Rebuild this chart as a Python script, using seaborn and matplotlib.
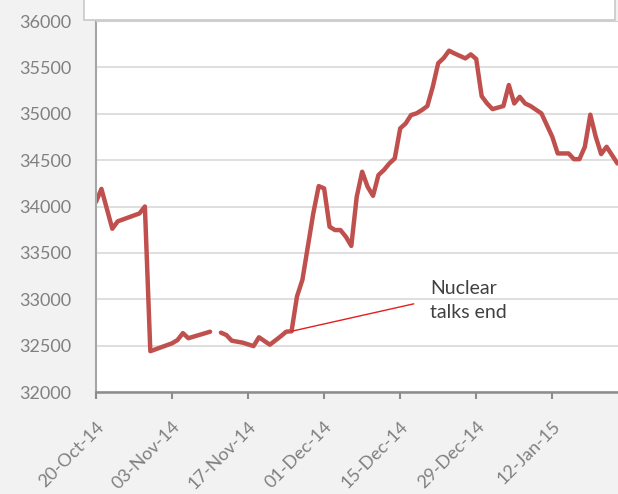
import numpy as np
import pandas as pd
import matplotlib
matplotlib.use("Agg")
import matplotlib.pyplot as plt
import matplotlib.dates as mdates
from matplotlib.patches import Rectangle
import seaborn as sns

# index values (day offset from 20-Oct-14, value)
start = pd.Timestamp("2014-10-20")
day_offsets = [0, 1, 3, 4, 8, 9, 10, 14, 15, 16, 17, 21, 22, 23, 24, 25, 27, 29,
               30, 32, 34, 35, 36, 37, 38, 40, 41, 42, 43, 44, 45, 46, 47, 48, 49,
               50, 51, 52, 53, 54, 55, 56, 57, 58, 59, 60, 61, 62, 63, 64, 65, 66,
               68, 69, 70, 71, 72, 73, 75, 76, 77, 78, 79, 80, 82, 84, 85, 87, 88,
               89, 90, 91, 92, 93, 94, 96]
values = [34050, 34190, 33760, 33840, 33925, 34000, 32440, 32525, 32560, 32635,
          32580, 32650, np.nan, 32640, 32614, 32553, 32532, 32495, 32590, 32510,
          32600, 32650, 32655, 33030, 33210, 33926, 34220, 34195, 33782, 33746,
          33746, 33674, 33575, 34105, 34375, 34213, 34115, 34339, 34393, 34464,
          34518, 34842, 34895, 34986, 35004, 35040, 35083, 35291, 35545, 35600,
          35680, 35650, 35597, 35640, 35590, 35190, 35111, 35050, 35083, 35310,
          35111, 35183, 35111, 35083, 35004, 34752, 34572, 34572, 34510, 34510,
          34644, 34990, 34752, 34565, 34644, 34464]
note_text = "Nuclear\ntalks end"
note_day = 36

dates = [start + pd.Timedelta(days=d) for d in day_offsets]
df = pd.DataFrame({"date": dates, "value": values})
# split the line where a value is missing
df["segment"] = df["value"].isna().cumsum()
df = df.dropna()

fig = plt.figure(figsize=(6.18, 4.94), dpi=100, facecolor="#f2f2f2")
ax = fig.add_axes([96 / 618, 1 - 392 / 494, 1 - 96 / 618, (392 - 21) / 494])
ax.set_facecolor("white")

# white box at the top (cropped legend area)
fig.patches.append(Rectangle((84 / 618, 1 - 20 / 494), (615 - 84) / 618, 0.05,
                             transform=fig.transFigure, facecolor="white",
                             edgecolor="#c8c8c8", linewidth=1.2, zorder=0))

ax.grid(axis="y", color="#d9d9d9", linewidth=1.2)
ax.set_axisbelow(True)

sns.lineplot(data=df, x="date", y="value", units="segment", estimator=None,
             color="#c0504d", linewidth=3.2, ax=ax, solid_capstyle="round",
             solid_joinstyle="round")

ax.set_ylim(32000, 36000)
ax.set_yticks(np.arange(32000, 36001, 500))
ax.set_xlim(start, start + pd.Timedelta(days=96.1))
ax.set_xticks(pd.date_range(start, periods=7, freq="14D"))
ax.xaxis.set_major_formatter(mdates.DateFormatter("%d-%b-%y"))
ax.set_xlabel("")
ax.set_ylabel("")

ax.spines["right"].set_visible(False)
ax.spines["top"].set_color("#d0d0d0")
ax.spines["left"].set_color("#a6a6a6")
ax.spines["left"].set_linewidth(1.5)
ax.spines["bottom"].set_color("#8c8c8c")
ax.spines["bottom"].set_linewidth(1.8)

ax.tick_params(axis="y", length=0, pad=18, labelsize=13, labelcolor="#808080")
ax.tick_params(axis="x", length=5, width=1.5, color="#8c8c8c", pad=14,
               labelsize=13, labelcolor="#808080")
for lab in ax.get_yticklabels() + ax.get_xticklabels():
    lab.set_family("Lato")
for lab in ax.get_xticklabels():
    lab.set_rotation(45)
    lab.set_ha("right")
    lab.set_rotation_mode("anchor")

i = day_offsets.index(note_day)
ax.annotate(note_text, xy=(dates[i], values[i]),
            xytext=(start + pd.Timedelta(days=61.5), 32990),
            ha="left", va="center", fontsize=14, family="Lato", color="#404040",
            linespacing=1.5,
            arrowprops=dict(arrowstyle="-", color="#e02020", lw=1,
                            relpos=(0, 0.5), shrinkA=10, shrinkB=0))

fig.savefig("out.png", dpi=100, facecolor=fig.get_facecolor())
